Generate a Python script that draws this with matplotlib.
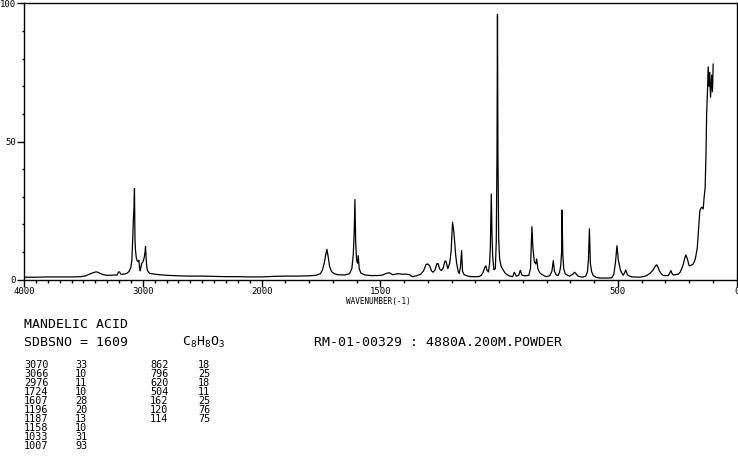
import numpy as np
import matplotlib
matplotlib.use('Agg')
import matplotlib.pyplot as plt
from matplotlib.ticker import FixedLocator, MultipleLocator

plt.rcParams['font.family'] = ['DejaVu Sans Mono']
plt.rcParams['mathtext.fontset'] = 'custom'
plt.rcParams['mathtext.rm'] = 'DejaVu Sans Mono'

# spectrum (wavenumber in cm-1, intensity 0-100)
wavenumber = [
    4000, 3900, 3800, 3700, 3600, 3520, 3480, 3450, 3420, 3395, 3385, 3360, 3330, 3305,
    3270, 3240, 3215, 3205, 3195, 3185, 3160, 3135, 3115, 3100, 3092, 3088, 3082, 3078,
    3074, 3070, 3066, 3062, 3055, 3049, 3040, 3033, 3026, 3021, 3014, 3010, 2998, 2988,
    2981, 2977, 2972, 2966, 2960, 2943, 2900, 2860, 2800, 2700, 2600, 2500, 2400, 2300,
    2200, 2100, 2000,
    1950, 1900, 1850, 1800, 1770, 1752, 1744, 1736, 1730, 1725, 1720, 1714, 1706, 1695,
    1680, 1650, 1630, 1620, 1614, 1610, 1607, 1604, 1600, 1596, 1593, 1589, 1582, 1565,
    1540, 1510, 1490, 1475, 1462, 1448, 1435, 1424, 1410, 1390, 1377, 1365, 1345, 1330,
    1318, 1308, 1300, 1292, 1285, 1278, 1270, 1262, 1257, 1250, 1243, 1235, 1228, 1223,
    1216, 1208, 1202, 1196, 1191, 1187, 1183, 1179, 1172, 1168, 1163, 1158, 1154, 1147,
    1135, 1120, 1085, 1075, 1068, 1060, 1056, 1051, 1045, 1040, 1037, 1035, 1033, 1030,
    1027, 1022, 1016, 1012, 1009, 1007, 1005, 1002, 998, 992, 985, 975, 965, 950,
    943, 936, 928, 918, 911, 904, 890, 875, 868, 865, 862, 858, 852, 846,
    842, 837, 830, 822, 810, 801, 787, 778, 772, 767, 760, 752, 746, 741,
    737, 735, 732, 728, 722, 712, 703, 690, 682, 675, 668, 650, 635, 628,
    624, 620, 616, 611, 604, 590, 576, 540, 526, 517, 510, 504, 498, 489,
    478, 472, 467, 462, 457, 440, 408, 390, 379, 365, 352, 342, 337, 331,
    326, 318, 309, 288, 282, 277, 272, 267, 246, 238, 232, 225, 218, 214,
    208, 200, 192, 183, 176, 171.6, 166, 162, 158, 155, 150, 146, 141, 137,
    133, 129.4, 126.5, 122.3, 120, 117, 114, 110, 105.5, 102, 99,
]
intensity = [
    0.9, 0.9, 1.0, 1.0, 1.0, 1.1, 1.4, 2.0, 2.5, 2.8, 2.8, 2.3, 1.8, 1.6,
    1.6, 1.7, 1.7, 2.8, 2.8, 2.0, 2.0, 2.3, 3.0, 4.5, 7, 11, 18, 23,
    26, 33, 15, 11, 8, 7, 6.5, 7, 4, 3.2, 5, 5.8, 6.5, 8,
    10, 12, 8, 4.5, 3.2, 2.3, 2.0, 1.8, 1.6, 1.4, 1.3, 1.3, 1.2, 1.1,
    1.1, 1.0, 1.0,
    1.2, 1.3, 1.3, 1.4, 1.6, 2.2, 3.5, 6, 9, 11, 8.5, 5, 3, 2.2,
    1.8, 1.7, 2.2, 4, 9, 17, 29, 14, 7, 6, 8.7, 4, 2.4, 1.7,
    1.5, 1.5, 1.7, 2.3, 2.5, 1.8, 2.0, 2.2, 2.0, 2.0, 1.8, 1.1, 1.5, 2.0,
    3.2, 5.5, 5.7, 5.0, 3.2, 2.7, 3.5, 5.8, 5.8, 3.8, 3.3, 4.4, 6.8, 6.5,
    4, 6, 10.5, 20.8, 17.5, 13.5, 9, 6, 2.8, 2.2, 4.5, 10.5, 3, 1.8,
    1.4, 1.1, 1.1, 1.6, 2.6, 4.5, 5, 3.4, 2.8, 6, 12, 22.6, 31, 16,
    8, 3.6, 4, 14, 45, 96, 45, 15, 7.5, 5, 3.8, 2.4, 1.7, 1.2,
    1.1, 2.7, 1.3, 1.5, 3.4, 1.6, 1.4, 1.6, 4, 11.7, 19.2, 11.7, 6.5, 5.7,
    7.5, 4, 2.6, 2, 1.4, 1.1, 1.45, 3, 6.9, 3, 1.8, 1.5, 2.6, 4.8,
    10, 25.2, 9, 4, 2.2, 1.6, 1.3, 2.0, 2.7, 2.0, 1.3, 0.9, 1.3, 3,
    7.5, 18.4, 6, 3, 1.5, 0.8, 0.6, 0.6, 0.7, 2, 6.5, 12.3, 7, 3.3,
    1.6, 2.5, 3.5, 2.2, 1.5, 1.0, 0.9, 1.2, 1.5, 2.3, 3.5, 5.0, 5.4, 4.5,
    3.3, 2.2, 1.5, 1.5, 2.4, 3.3, 2.2, 1.7, 2.0, 2.7, 3.9, 5.5, 8, 9,
    7.6, 5, 5.2, 5.7, 7, 8.7, 11.5, 16.5, 21, 25, 26, 26.2, 25.6, 30,
    33, 45, 60, 70, 77, 70, 75, 66, 74, 68, 78,
]

# peak table printed under the chart
peaks_a = ['3070', '3066', '2976', '1724', '1607', '1196', '1187', '1158', '1033', '1007']
ints_a = ['33', '10', '11', '10', '28', '20', '13', '10', '31', '93']
peaks_b = ['862', '796', '620', '504', '162', '120', '114']
ints_b = ['18', '25', '18', '11', '25', '76', '75']

x_major = [4000, 3000, 2000, 1500, 500, 0]
y_major = [0, 50, 100]


# SDBS style axis: above 2000 cm-1 the scale is compressed by half
def fwd(w):
    w = np.asarray(w, dtype=float)
    return np.where(w > 2000, 2000 + (w - 2000) / 2.0, w)


def inv(u):
    u = np.asarray(u, dtype=float)
    return np.where(u > 2000, 2000 + (u - 2000) * 2.0, u)


W, H = 738, 457
fig = plt.figure(figsize=(W / 100, H / 100), dpi=100)
ax = fig.add_axes([24 / W, 1 - 279.7 / H, (736.7 - 24) / W, (279.7 - 3.3) / H])

ax.plot(wavenumber, intensity, color='black', lw=0.9)
ax.set_xscale('function', functions=(fwd, inv))
ax.set_xlim(4000, 0)
ax.set_ylim(0, 100)

ax.xaxis.set_major_locator(FixedLocator(x_major))
ax.xaxis.set_minor_locator(MultipleLocator(100))
ax.yaxis.set_major_locator(FixedLocator(y_major))
ax.yaxis.set_minor_locator(MultipleLocator(10))
ax.set_xticklabels([str(v) for v in x_major])
ax.set_yticklabels([str(v) for v in y_major])

ax.tick_params(which='major', direction='out', length=5.3, width=1, labelsize=6.5, pad=0.3)
ax.tick_params(which='minor', direction='out', length=1.8, width=1)
for s in ax.spines.values():
    s.set_linewidth(1)

fig.text(378 / W, 1 - 301.5 / H, 'WAVENUMBER(-1)', fontsize=5.5, ha='center', va='center')

fig.text(24 / W, 1 - 324 / H, 'MANDELIC ACID', fontsize=9.5, ha='left', va='center')
fig.text(24 / W, 1 - 342 / H, 'SDBSNO = 1609', fontsize=9.5, ha='left', va='center')
fig.text(182 / W, 1 - 342 / H, 'C$_8$H$_8$O$_3$', fontsize=9.5, ha='left', va='center')
fig.text(314 / W, 1 - 342 / H, 'RM-01-00329 : 4880A.200M.POWDER', fontsize=9.5,
         ha='left', va='center')

for i in range(len(peaks_a)):
    yy = 1 - (364.5 + 9.1 * i) / H
    fig.text(24 / W, yy, peaks_a[i], fontsize=7.3, va='center')
    fig.text(75 / W, yy, ints_a[i], fontsize=7.3, va='center')
for i in range(len(peaks_b)):
    yy = 1 - (364.5 + 9.1 * i) / H
    fig.text(150 / W, yy, peaks_b[i], fontsize=7.3, va='center')
    fig.text(198 / W, yy, ints_b[i], fontsize=7.3, va='center')

fig.savefig('out.png', dpi=100)
